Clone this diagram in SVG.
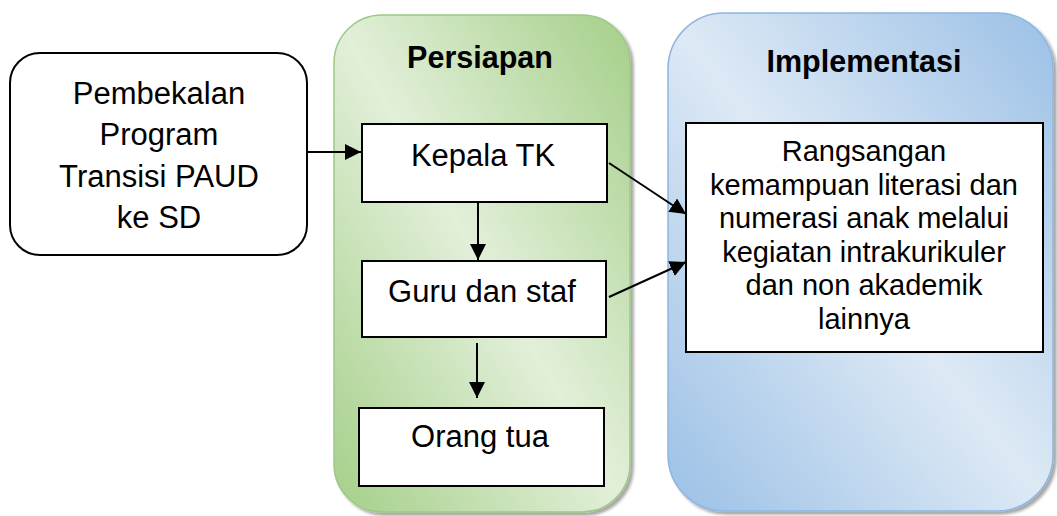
<svg xmlns="http://www.w3.org/2000/svg" width="1057" height="516" viewBox="0 0 1057 516">
  <style>
    .t { font-family: "Liberation Sans", Arial, sans-serif; fill: #000; text-anchor: middle; }
    .big { font-size: 31px; }
    .mid { font-size: 29px; }
    .title { font-size: 30.5px; font-weight: bold; }
    .box { fill: #fff; stroke: #000; stroke-width: 2; }
    .conn { stroke: #000; stroke-width: 2; fill: none; }
  </style>
  <defs>
    <linearGradient id="gGreen" x1="0" y1="1" x2="1" y2="0">
      <stop offset="0" stop-color="#a5cf89"/>
      <stop offset="0.5" stop-color="#e2efd9"/>
      <stop offset="1" stop-color="#a5cf89"/>
    </linearGradient>
    <linearGradient id="gBlue" x1="0" y1="1" x2="1" y2="0">
      <stop offset="0" stop-color="#9bc0e6"/>
      <stop offset="0.5" stop-color="#dde9f5"/>
      <stop offset="1" stop-color="#9bc0e6"/>
    </linearGradient>
    <filter id="shadow" x="-5%" y="-5%" width="115%" height="115%">
      <feDropShadow dx="3" dy="3" stdDeviation="1.5" flood-color="#000" flood-opacity="0.35"/>
    </filter>
    <marker id="arr" viewBox="0 0 16 16" refX="16" refY="8" markerWidth="16" markerHeight="16" markerUnits="userSpaceOnUse" orient="auto">
      <path d="M0,0 L16,8 L0,16 Z" fill="#000"/>
    </marker>
  </defs>

  <g id="panel-persiapan">
    <rect x="334" y="15" width="296" height="497" rx="48" ry="48" fill="url(#gGreen)" stroke="#9cc985" stroke-width="1.5" filter="url(#shadow)"/>
    <text class="t title" x="480" y="68">Persiapan</text>
  </g>

  <g id="panel-implementasi">
    <rect x="668" y="13" width="385" height="498" rx="56" ry="56" fill="url(#gBlue)" stroke="#8db6e0" stroke-width="1.5" filter="url(#shadow)"/>
    <text class="t title" x="864" y="72">Implementasi</text>
  </g>

  <g id="node-pembekalan">
    <rect x="10" y="53" width="297" height="202" rx="30" ry="30" fill="#fff" stroke="#000" stroke-width="2"/>
    <text class="t big" x="159" y="104">Pembekalan</text>
    <text class="t big" x="159" y="145">Program</text>
    <text class="t big" x="159" y="187">Transisi PAUD</text>
    <text class="t big" x="159" y="228">ke SD</text>
  </g>

  <g id="node-kepala">
    <rect class="box" x="362" y="124" width="245" height="78"/>
    <text class="t big" x="483" y="166">Kepala TK</text>
  </g>

  <g id="node-guru">
    <rect class="box" x="362" y="261" width="244" height="76"/>
    <text class="t big" x="482" y="302">Guru dan staf</text>
  </g>

  <g id="node-orangtua">
    <rect class="box" x="359" y="408" width="245" height="78"/>
    <text class="t big" x="480" y="447">Orang tua</text>
  </g>

  <g id="node-rangsangan">
    <rect class="box" x="686" y="123" width="357" height="229"/>
    <text class="t mid" x="864" y="161">Rangsangan</text>
    <text class="t mid" x="864" y="195">kemampuan literasi dan</text>
    <text class="t mid" x="864" y="228">numerasi anak melalui</text>
    <text class="t mid" x="864" y="262">kegiatan intrakurikuler</text>
    <text class="t mid" x="864" y="295">dan non akademik</text>
    <text class="t mid" x="864" y="329">lainnya</text>
  </g>

  <g id="connectors">
    <line class="conn" x1="307" y1="152" x2="361" y2="152" marker-end="url(#arr)"/>
    <line class="conn" x1="478" y1="203" x2="478" y2="260" marker-end="url(#arr)"/>
    <line class="conn" x1="477" y1="343" x2="477" y2="398" marker-end="url(#arr)"/>
    <line class="conn" x1="609" y1="163" x2="686" y2="214" marker-end="url(#arr)"/>
    <line class="conn" x1="609" y1="297" x2="686" y2="262" marker-end="url(#arr)"/>
  </g>
</svg>
